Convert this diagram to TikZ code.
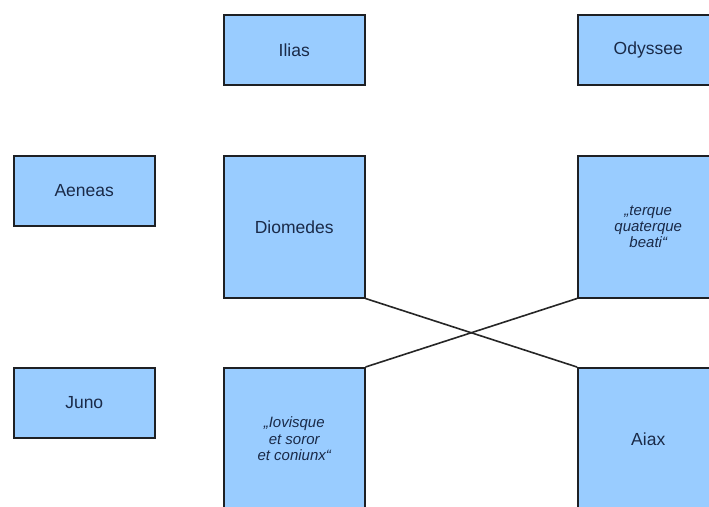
\documentclass[tikz,border=0pt]{standalone}
\usepackage{fontspec}
\setmainfont{Liberation Sans}
\definecolor{boxfill}{HTML}{99CCFF}
\definecolor{boxtext}{HTML}{1A2A48}
\definecolor{boxline}{HTML}{1E2024}
\begin{document}
\begin{tikzpicture}[x=1pt,y=-1pt,
  box/.style={draw=boxline, line width=1.5pt, fill=boxfill, text=boxtext,
    inner sep=0pt, font=\fontsize{17.5}{19}\selectfont, align=center, anchor=north west},
  smallbox/.style={box, minimum width=141pt, minimum height=70pt},
  bigbox/.style={box, minimum width=141pt, minimum height=142pt},
  quote/.style={font=\fontsize{15}{16.3}\selectfont\itshape},
  link/.style={draw=black!85, line width=1.6pt}]
\path[use as bounding box, fill=white] (0,0) rectangle (709,506);
\clip (0,0) rectangle (709,506);
\node[smallbox] (ilias) at (223,14) {Ilias};
\node[smallbox] (odyssee) at (577,14) {Odyssee};
\node[smallbox] (aeneas) at (13,155) {Aeneas};
\node[bigbox] (diomedes) at (223,155) {Diomedes};
\node[bigbox, quote] (terque) at (577,155) {„terque\\quaterque\\beati“};
\node[smallbox] (juno) at (13,367) {Juno};
\node[bigbox, quote] (iovisque) at (223,367) {„Iovisque\\et soror\\et coniunx“};
\node[bigbox] (aiax) at (577,367) {Aiax};
\draw[link] (diomedes.south east) -- (aiax.north west);
\draw[link] (iovisque.north east) -- (terque.south west);
\end{tikzpicture}
\end{document}
